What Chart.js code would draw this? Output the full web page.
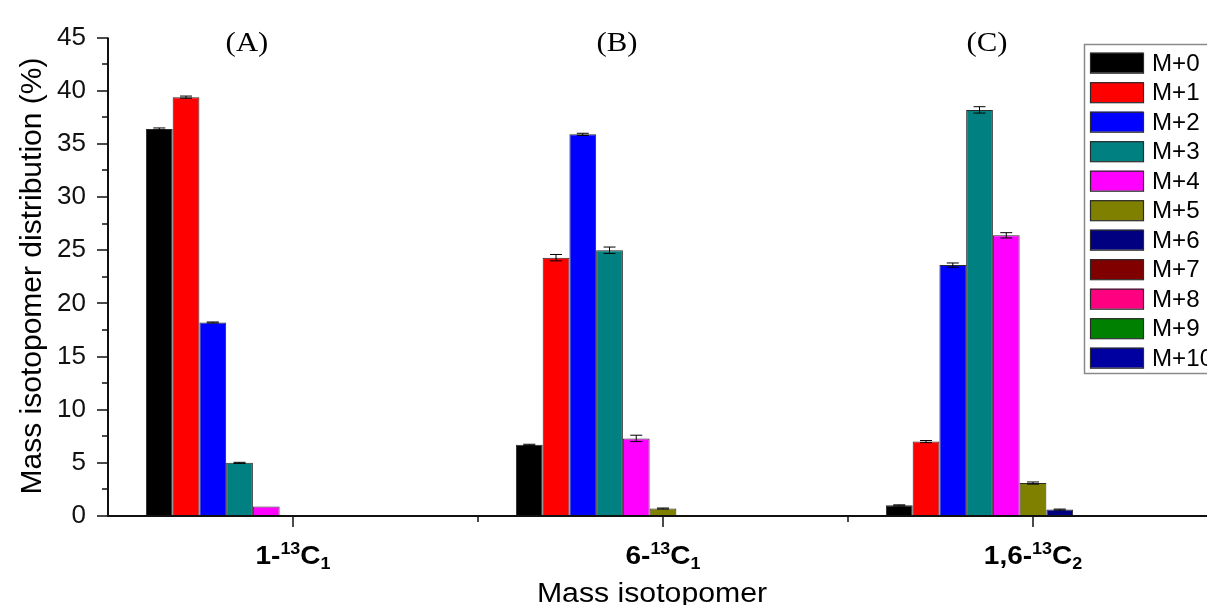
<!DOCTYPE html>
<html>
<head>
<meta charset="utf-8">
<script src="https://cdn.jsdelivr.net/npm/chart.js@4.4.1/dist/chart.umd.min.js"></script>
<style>
  html, body { margin: 0; padding: 0; background: #fff; overflow: hidden; }
  #wrap { width: 1225px; height: 605px; }
</style>
</head>
<body>
<div id="wrap"><canvas id="chart" width="1225" height="605"></canvas></div>
<script>
// categories and label pieces (base, superscript, element, subscript)
const categories = ['1-13C1', '6-13C1', '1,6-13C2']
const category_parts = [['1-', '13', 'C', '1'], ['6-', '13', 'C', '1'], ['1,6-', '13', 'C', '2']]
const panel_tags = ['(A)', '(B)', '(C)']

const series_names = ['M+0', 'M+1', 'M+2', 'M+3', 'M+4', 'M+5', 'M+6', 'M+7', 'M+8', 'M+9', 'M+10']
const series_colors = ['#000000', '#ff0000', '#0000ff', '#008080', '#ff00ff', '#808000',
                       '#000080', '#800000', '#ff0080', '#008000', '#0000a0']

// values (%) per isotopomer, one entry per category
const m0 = [36.4, 6.7, 1.0]
const m1 = [39.4, 24.3, 7.0]
const m2 = [18.2, 35.9, 23.6]
const m3 = [5.0, 25.0, 38.2]
const m4 = [0.9, 7.3, 26.4]
const m5 = [0.1, 0.7, 3.1]
const m6 = [0, 0.1, 0.6]
const m7 = [0, 0, 0]
const m8 = [0, 0, 0]
const m9 = [0, 0, 0]
const m10 = [0, 0, 0]

// error bar half widths
const e0 = [0.1, 0.05, 0.05]
const e1 = [0.1, 0.3, 0.1]
const e2 = [0.05, 0.1, 0.2]
const e3 = [0.05, 0.3, 0.3]
const e4 = [0, 0.3, 0.25]
const e5 = [0, 0.05, 0.1]
const e6 = [0, 0, 0.05]
const e7 = [0, 0, 0]
const e8 = [0, 0, 0]
const e9 = [0, 0, 0]
const e10 = [0, 0, 0]

const y_ticks = [0, 5, 10, 15, 20, 25, 30, 35, 40, 45]

const all_values = [m0, m1, m2, m3, m4, m5, m6, m7, m8, m9, m10]
const all_errors = [e0, e1, e2, e3, e4, e5, e6, e7, e8, e9, e10]

let datasets = series_names.map(function (name, i) {
    return {
        label: name,
        data: all_values[i],
        errors: all_errors[i],
        backgroundColor: series_colors[i],
        borderColor: '#2a2a2a',
        borderWidth: 1,
        borderSkipped: false,
        barPercentage: 1,
        categoryPercentage: 0.795
    }
})

// text with a little horizontal stretch, like the original figure
function stretch_text(ctx, txt, x, y, font, align, sx) {
    ctx.save()
    ctx.font = font
    ctx.textAlign = align
    ctx.textBaseline = 'alphabetic'
    ctx.translate(x, y)
    ctx.scale(sx, 1)
    ctx.fillText(txt, 0, 0)
    ctx.restore()
}

let extras = {
    id: 'extras',
    afterDatasetsDraw(chart) {
        const ctx = chart.ctx
        const xs = chart.scales.x
        const ys = chart.scales.y
        const area = chart.chartArea

        // error bars
        ctx.save()
        ctx.strokeStyle = '#000'
        ctx.lineWidth = 1
        chart.data.datasets.forEach(function (ds, di) {
            let meta = chart.getDatasetMeta(di)
            meta.data.forEach(function (bar, j) {
                let err = ds.errors[j]
                if (!err) return
                let v = ds.data[j]
                let top = ys.getPixelForValue(v + err)
                let bot = ys.getPixelForValue(v - err)
                ctx.beginPath()
                ctx.moveTo(bar.x, top); ctx.lineTo(bar.x, bot)
                ctx.moveTo(bar.x - 6, top); ctx.lineTo(bar.x + 6, top)
                ctx.moveTo(bar.x - 6, bot); ctx.lineTo(bar.x + 6, bot)
                ctx.stroke()
            })
        })
        ctx.restore()

        // axes lines and tick marks
        const ax = Math.round(area.left)
        const ay = Math.round(area.bottom)
        ctx.save()
        ctx.strokeStyle = '#111'
        ctx.lineWidth = 2
        ctx.beginPath()
        ctx.moveTo(ax, area.top)
        ctx.lineTo(ax, ay)
        ctx.lineTo(area.right, ay)
        ctx.stroke()
        ctx.lineWidth = 1.5
        ctx.beginPath()
        for (let v = 0; v <= 45; v += 2.5) {
            let py = Math.round(ys.getPixelForValue(v))
            let len = (v % 5 === 0) ? 11 : 6
            ctx.moveTo(ax - len, py)
            ctx.lineTo(ax, py)
        }
        for (let i = 0; i < categories.length; i++) {
            let px = Math.round(xs.getPixelForValue(i))
            ctx.moveTo(px, ay)
            ctx.lineTo(px, ay + 11)
            if (i > 0) {
                let bx = Math.round((xs.getPixelForValue(i) + xs.getPixelForValue(i - 1)) / 2)
                ctx.moveTo(bx, ay)
                ctx.lineTo(bx, ay + 6)
            }
        }
        ctx.stroke()
        ctx.restore()

        ctx.save()
        ctx.fillStyle = '#000'

        // category labels with superscript / subscript
        category_parts.forEach(function (parts, i) {
            const big = 'bold 25px Arial, "Liberation Sans", sans-serif'
            const small = 'bold 16px Arial, "Liberation Sans", sans-serif'
            const sx = 1.12
            ctx.font = big
            let w0 = ctx.measureText(parts[0]).width
            let w2 = ctx.measureText(parts[2]).width
            ctx.font = small
            let w1 = ctx.measureText(parts[1]).width
            let w3 = ctx.measureText(parts[3]).width
            let total = (w0 + w1 + w2 + w3) * sx
            let x = xs.getPixelForValue(i) - total / 2
            let base = 564
            stretch_text(ctx, parts[0], x, base, big, 'left', sx); x += w0 * sx
            stretch_text(ctx, parts[1], x, base - 10, small, 'left', sx); x += w1 * sx
            stretch_text(ctx, parts[2], x, base, big, 'left', sx); x += w2 * sx
            stretch_text(ctx, parts[3], x, base + 5, small, 'left', sx)
        })

        // panel tags
        panel_tags.forEach(function (tag, i) {
            stretch_text(ctx, tag, xs.getPixelForValue(i) - 46, 51,
                '28px "Times New Roman", "Liberation Serif", serif', 'center', 1.1)
        })

        // axis titles
        stretch_text(ctx, 'Mass isotopomer', 652, 602, '27px Arial, "Liberation Sans", sans-serif', 'center', 1.12)
        ctx.save()
        ctx.translate(41, 276)
        ctx.rotate(-Math.PI / 2)
        ctx.font = '30px Arial, "Liberation Sans", sans-serif'
        ctx.textAlign = 'center'
        ctx.textBaseline = 'alphabetic'
        ctx.fillText('Mass isotopomer distribution (%)', 0, 0)
        ctx.restore()

        // legend box
        ctx.strokeStyle = '#8a8a8a'
        ctx.lineWidth = 1.5
        ctx.strokeRect(1084.5, 44.5, 200, 329)
        chart.data.datasets.forEach(function (ds, i) {
            let cy = 62.7 + i * 29.5
            ctx.fillStyle = ds.backgroundColor
            ctx.fillRect(1090, cy - 10, 53, 20)
            ctx.strokeStyle = '#2a2a2a'
            ctx.lineWidth = 1.2
            ctx.strokeRect(1090.5, cy - 9.5, 53, 20)
            ctx.fillStyle = '#000'
            stretch_text(ctx, ds.label, 1152, cy + 8, '23px Arial, "Liberation Sans", sans-serif', 'left', 1.05)
        })
        ctx.restore()
    }
}

let ctx = document.getElementById('chart')

let my_chart = new Chart(ctx, {
    type: 'bar',
    data: {
        labels: categories,
        datasets: datasets
    },
    options: {
        responsive: false,
        animation: false,
        layout: { padding: { top: 27, bottom: 89, right: 7, left: 0 } },
        plugins: {
            legend: { display: false },
            tooltip: { enabled: false }
        },
        scales: {
            x: {
                display: false,
                offset: true
            },
            y: {
                min: 0,
                max: 45,
                afterFit: function (scale) { scale.width = 108 },
                afterBuildTicks: function (scale) {
                    scale.ticks = y_ticks.map(function (v) { return { value: v } })
                },
                grid: { display: false, drawTicks: false },
                border: { display: false },
                ticks: {
                    padding: 22,
                    color: '#111',
                    font: { size: 26, family: 'Arial, "Liberation Sans", sans-serif' }
                }
            }
        }
    },
    plugins: [extras]
})
</script>
</body>
</html>
